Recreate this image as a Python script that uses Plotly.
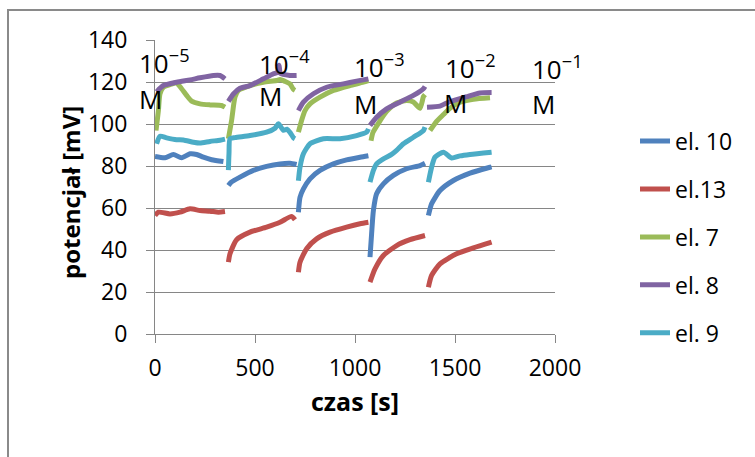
import plotly.graph_objects as go

# ---------------- data (time in s, potential in mV); None separates segments ----------------
series_names = ["el. 10", "el.13", "el. 7", "el. 8", "el. 9"]
series_colors = ["#4F81BD", "#C0504D", "#9BBB59", "#8064A2", "#4BACC6"]

t_el10 = [0, 50, 92, 133, 175, 208, 242, 283, 342, None,
          367, 380, 425, 492, 558, 625, 675, 708, None,
          717, 725, 742, 775, 825, 892, 958, 1025, 1067, None,
          1075, 1083, 1092, 1108, 1142, 1192, 1258, 1325, 1350, None,
          1367, 1383, 1425, 1492, 1575, 1675, 1683]
v_el10 = [84.5, 83.9, 85.5, 83.9, 85.8, 85.5, 84.2, 83, 82.1, None,
          70.7, 72.2, 74.7, 77.9, 79.8, 81, 81.3, 80.7, None,
          58, 65.1, 69.1, 73.9, 77.9, 81, 82.9, 84.2, 84.9, None,
          36.6, 47.7, 58.8, 66.8, 71.5, 75.5, 78.7, 80.2, 81.3, None,
          56.4, 62, 68.3, 73.1, 76.6, 79.4, 79.6]

t_el13 = [0, 17, 75, 125, 175, 225, 275, 317, 350, None,
          367, 375, 408, 475, 558, 625, 683, 700, None,
          717, 725, 758, 808, 875, 958, 1025, 1067, None,
          1075, 1100, 1142, 1208, 1275, 1350, None,
          1367, 1383, 1425, 1508, 1592, 1683]
v_el13 = [56.4, 58, 57.2, 58, 59.6, 58.8, 58.5, 58, 58.3, None,
          34.2, 38.2, 44.9, 48.5, 50.9, 53.2, 56, 54.4, None,
          29.4, 34.2, 40.6, 45.3, 48.5, 50.9, 52.5, 53.2, None,
          24.7, 31, 37.4, 42.1, 44.9, 46.9, None,
          22.3, 27.9, 33.4, 38.2, 41, 43.7]

t_el7 = [5, 17, 25, 42, 75, 108, 133, 158, 183, 225, 275, 333, 350, None,
         367, 383, 400, 417, 475, 542, 608, 625, 650, 675, 692, 700, None,
         717, 733, 750, 775, 825, 892, 975, 1042, 1067, None,
         1080, 1090, 1125, 1158, 1208, 1258, 1292, 1325, 1342, 1350, None,
         1375, 1408, 1442, 1475, 1525, 1592, 1675]
v_el7 = [96.9, 106.4, 114.4, 117.5, 118.8, 119.5, 116.8, 113.6, 110.9, 109.6, 109.1, 108.8, 108, None,
         93, 101.7, 112.8, 116, 118.3, 119.9, 120.7, 121.2, 120.3, 119.1, 116.5, 116, None,
         96.1, 101.7, 106.4, 109.6, 112.8, 116, 118.3, 119.9, 120.7, None,
         92, 96, 101.5, 106, 110, 111.2, 110.5, 107.5, 113, 114, None,
         96.9, 101.3, 104.5, 107.5, 110.4, 111.8, 112.5]

t_el8 = [8, 42, 108, 175, 225, 292, 325, 350, None,
         367, 392, 425, 475, 542, 592, 612, 620, 628, 675, 708, None,
         717, 742, 792, 858, 942, 1008, 1067, None,
         1075, 1108, 1158, 1225, 1292, 1342, 1350, None,
         1360, 1425, 1458, 1558, 1625, 1683]
v_el8 = [115.3, 118.3, 119.9, 121, 122, 123.1, 123.1, 121.5, None,
         110.8, 114.3, 117, 118.3, 121.5, 123.9, 124.6, 128, 124, 123.1, 123.1, None,
         106.4, 110.4, 114.4, 117.5, 119.1, 120.4, 121.5, None,
         99.3, 103.2, 107.2, 110.4, 113.6, 116.8, 117.9, None,
         108, 108.5, 110, 113, 114.8, 115]

t_el9 = [8, 25, 58, 108, 142, 192, 225, 275, 325, 350, None,
         367, 370, 375, 400, 475, 558, 600, 617, 642, 660, 675, 692, 700, None,
         717, 725, 742, 775, 842, 925, 1008, 1058, 1067, None,
         1075, 1092, 1108, 1142, 1183, 1208, 1242, 1292, 1342, 1350, None,
         1367, 1383, 1400, 1442, 1483, 1525, 1575, 1683]
v_el9 = [90.6, 94.2, 93.4, 92.5, 92.4, 91.3, 90.9, 91.7, 92.3, 92.8, None,
         78, 86, 93, 93.5, 94.5, 96.1, 98, 100.1, 97, 97.5, 96, 93.5, 93, None,
         73, 79.4, 85.8, 90.6, 93, 93, 94.5, 96.1, 97.7, None,
         72.3, 77.9, 81, 83.4, 85.5, 87.4, 90.6, 93.7, 96.9, 98.5, None,
         72.3, 79.4, 84.2, 86.6, 83.8, 84.8, 85.5, 86.6]

series_t = [t_el10, t_el13, t_el7, t_el8, t_el9]
series_v = [v_el10, v_el13, v_el7, v_el8, v_el9]

# concentration labels (text, position in axis units: s / mV)
conc_labels = ["10<sup>−5</sup>", "10<sup>−4</sup>", "10<sup>−3</sup>", "10<sup>−2</sup>", "10<sup>−1</sup>"]
conc_x = [-92, 508, 983, 1442, 1875]
conc_y = [129.4, 129.0, 127.4, 127.0, 126.7]
unit_label = "M"
unit_x = [-92, 508, 983, 1433, 1875]
unit_y = [111.7, 113.1, 109.6, 110.0, 109.6]

x_ticks = [0, 500, 1000, 1500, 2000]
y_ticks = [0, 20, 40, 60, 80, 100, 120, 140]
X_MAX, Y_MAX = 2000, 140

FONT = "Open Sans"
GRID = "#868686"

fig = go.Figure()
for name, col, tt, vv in zip(series_names, series_colors, series_t, series_v):
    fig.add_trace(go.Scatter(
        x=tt, y=vv, name=name, mode="lines", legendgroup=name,
        connectgaps=False,
        line=dict(color=col, width=5, shape="spline", smoothing=0.6),
    ))

# labels expressed in paper units so that ones left of the axis are still drawn
for txt, xx, yy in zip(conc_labels, conc_x, conc_y):
    fig.add_annotation(x=xx / X_MAX, y=yy / Y_MAX, xref="paper", yref="paper", text=txt,
                       showarrow=False, xanchor="left", yanchor="middle",
                       font=dict(family=FONT, size=26, color="#000000"))
for xx, yy in zip(unit_x, unit_y):
    fig.add_annotation(x=xx / X_MAX, y=yy / Y_MAX, xref="paper", yref="paper", text=unit_label,
                       showarrow=False, xanchor="left", yanchor="middle",
                       font=dict(family=FONT, size=26, color="#000000"))

# axis titles
fig.add_annotation(x=(70 - 155) / 400, y=(334 - 193) / 294, xref="paper", yref="paper",
                   text="<b>potencjał [mV]</b>", textangle=-90, showarrow=False,
                   xanchor="center", yanchor="middle",
                   font=dict(family=FONT, size=24, color="#000000"))
fig.add_annotation(x=(355 - 155) / 400, y=(334 - 401) / 294, xref="paper", yref="paper",
                   text="<b>czas [s]</b>", showarrow=False,
                   xanchor="center", yanchor="middle",
                   font=dict(family=FONT, size=25, color="#000000"))

# outer chart border (Excel chart area)
fig.add_shape(type="rect", xref="paper", yref="paper",
              x0=(8 - 155) / 400, x1=(770 - 155) / 400,
              y0=(334 - 470) / 294, y1=(334 - 10) / 294,
              line=dict(color="#8a8a8a", width=2), fillcolor="rgba(0,0,0,0)", layer="below")

fig.update_layout(
    width=755, height=457,
    margin=dict(l=155, r=200, t=40, b=123, pad=0),
    paper_bgcolor="white", plot_bgcolor="white",
    font=dict(family=FONT, size=23, color="#000000"),
    showlegend=True,
    legend=dict(x=1.2, y=0.729, xanchor="left", yanchor="top",
                traceorder="grouped", tracegroupgap=15,
                font=dict(family=FONT, size=23, color="#000000"),
                bgcolor="rgba(0,0,0,0)", borderwidth=0),
)
fig.update_xaxes(
    range=[0, X_MAX], tickvals=x_ticks, ticktext=[str(v) for v in x_ticks],
    showgrid=False, zeroline=False,
    showline=True, linecolor=GRID, linewidth=1,
    ticks="outside", ticklen=8, tickcolor=GRID, tickwidth=1,
    ticklabelstandoff=5,
    tickfont=dict(family=FONT, size=23),
)
fig.update_yaxes(
    range=[0, Y_MAX], tickvals=y_ticks, ticktext=[str(v) for v in y_ticks],
    showgrid=True, gridcolor=GRID, gridwidth=1, zeroline=False,
    showline=True, linecolor=GRID, linewidth=1,
    ticks="outside", ticklen=8, tickcolor=GRID, tickwidth=1,
    ticklabelstandoff=14,
    tickfont=dict(family=FONT, size=23),
)

fig.write_html("out.html")
